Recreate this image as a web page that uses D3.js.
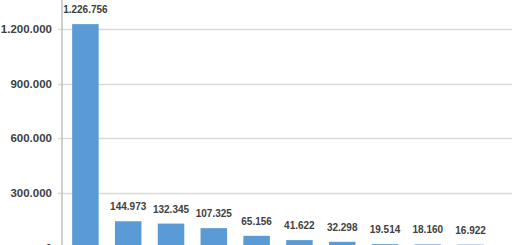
<!DOCTYPE html>
<html><head><meta charset="utf-8">
<script src="https://cdn.jsdelivr.net/npm/d3@7"></script>
<style>
html,body{margin:0;padding:0;background:#fff;overflow:hidden;}
svg{display:block;}
</style></head>
<body>
<svg id="c" width="520" height="245"></svg>
<script>
const categories = ["1","2","3","4","5","6","7","8","9","10"];
const values = [1226756,144973,132345,107325,65156,41622,32298,19514,18160,16922];
const yTicks = [0,300000,600000,900000,1200000];

const fmt = v => d3.format(",")(v).replace(/,/g,".");
const svg = d3.select("#c");
const x = d3.scaleBand().domain(categories).range([64,492]).paddingInner(0.38).paddingOuter(0.19);
const y = d3.scaleLinear().domain([0,1200000]).range([247.7,29]);

// gridlines
svg.append("g").selectAll("line").data(yTicks).join("line")
  .attr("x1",58).attr("x2",512)
  .attr("y1",d=>Math.round(y(d))+0.5).attr("y2",d=>Math.round(y(d))+0.5)
  .attr("stroke","#d9d9d9").attr("stroke-width",1.3);

// y labels
svg.append("g").selectAll("text").data(yTicks).join("text")
  .attr("x",52).attr("y",d=>y(d)).attr("dy","0.36em")
  .attr("text-anchor","end")
  .attr("font-family","Liberation Sans, Arial, sans-serif")
  .attr("font-weight","bold").attr("font-size","11.5px")
  .attr("fill","#404040")
  .text(d=>fmt(d));

// axis line
svg.append("line").attr("x1",62).attr("x2",62).attr("y1",0).attr("y2",250)
  .attr("stroke","#bfbfbf").attr("stroke-width",1.5);

// bars
svg.append("g").selectAll("rect").data(values).join("rect")
  .attr("x",(d,i)=>x(categories[i])).attr("width",x.bandwidth())
  .attr("y",d=>y(d)).attr("height",d=>y(0)-y(d))
  .attr("fill","#5b9bd5");

// value labels
svg.append("g").selectAll("text").data(values).join("text")
  .attr("x",(d,i)=>x(categories[i])+x.bandwidth()/2)
  .attr("y",d=>y(d)-11)
  .attr("text-anchor","middle")
  .attr("font-family","Liberation Sans, Arial, sans-serif")
  .attr("font-weight","bold").attr("font-size","10px")
  .attr("fill","#404040")
  .text(d=>fmt(d));
</script>
</body></html>
